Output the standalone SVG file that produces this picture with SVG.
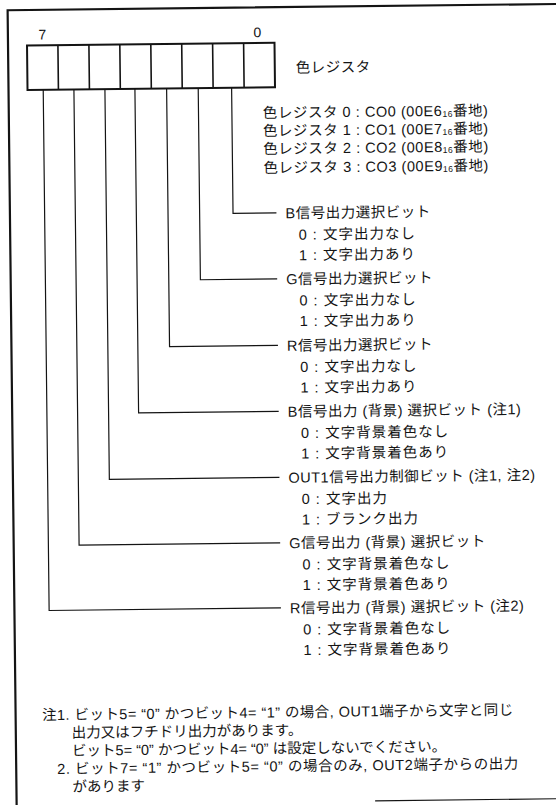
<svg xmlns="http://www.w3.org/2000/svg" width="556" height="805" viewBox="0 0 556 805">
<style>
text{font-family:'Liberation Sans','Noto Sans CJK JP',sans-serif;font-size:14.5px;fill:#141414}
.num{font-size:14px}
.sub{font-size:8.5px}
.lab{letter-spacing:0.5px}
.opt{letter-spacing:1px}
.ln{fill:none;stroke:#141414;stroke-width:1.2}
.frame{fill:none;stroke:#141414;stroke-width:2.2}
.box{fill:#fff;stroke:#141414;stroke-width:2}
.div{stroke:#141414;stroke-width:1.6}
</style>
<rect width="556" height="805" fill="#fff"/>
<g transform="rotate(-0.65)">
<g id="frame">
<path class="frame" d="M7.5,830 V10.3 H570"/>
<path class="ln" d="M366,805 H570" stroke-width="1.6"/>
</g>
<g id="register">
<text class="num" x="38" y="40">7</text>
<text class="num" x="253" y="40">0</text>
<rect class="box" x="26.5" y="45.8" width="247.5" height="44.5"/>
<path class="div" d="M57.4,45.8V90.3M88.4,45.8V90.3M119.3,45.8V90.3M150.3,45.8V90.3M181.2,45.8V90.3M212.1,45.8V90.3M243.1,45.8V90.3"/>
<text x="295" y="76" class="lab">色レジスタ</text>
</g>
<g id="addresses">
<text x="261.5" y="121" textLength="225" lengthAdjust="spacing">色レジスタ 0 : CO0 (00E6<tspan class="sub" dy="1">16</tspan><tspan dy="-1">番地)</tspan></text>
<text x="261.5" y="139" textLength="225" lengthAdjust="spacing">色レジスタ 1 : CO1 (00E7<tspan class="sub" dy="1">16</tspan><tspan dy="-1">番地)</tspan></text>
<text x="261.5" y="157" textLength="225" lengthAdjust="spacing">色レジスタ 2 : CO2 (00E8<tspan class="sub" dy="1">16</tspan><tspan dy="-1">番地)</tspan></text>
<text x="261.5" y="176" textLength="225" lengthAdjust="spacing">色レジスタ 3 : CO3 (00E9<tspan class="sub" dy="1">16</tspan><tspan dy="-1">番地)</tspan></text>
</g>
<g id="connectors">
<path class="ln" d="M230.6,90.3V216H274"/>
<path class="ln" d="M197.2,90.3V282H274"/>
<path class="ln" d="M165.6,90.3V348.5H274"/>
<path class="ln" d="M133.9,90.3V414.5H274"/>
<path class="ln" d="M103.9,90.3V480.5H274"/>
<path class="ln" d="M72.9,90.3V546H274"/>
<path class="ln" d="M42.2,90.3V611H274"/>
</g>
<g id="bit-b">
<text class="lab" x="283" y="221.5">B信号出力選択ビット</text>
<text class="opt" x="296" y="243">0 : 文字出力なし</text>
<text class="opt" x="296" y="263.5">1 : 文字出力あり</text>
</g>
<g id="bit-g">
<text class="lab" x="283" y="287.5">G信号出力選択ビット</text>
<text class="opt" x="296" y="309">0 : 文字出力なし</text>
<text class="opt" x="296" y="329.5">1 : 文字出力あり</text>
</g>
<g id="bit-r">
<text class="lab" x="283" y="354">R信号出力選択ビット</text>
<text class="opt" x="296" y="375.5">0 : 文字出力なし</text>
<text class="opt" x="296" y="396">1 : 文字出力あり</text>
</g>
<g id="bit-b-bg">
<text class="lab" x="283" y="420">B信号出力 (背景) 選択ビット (注1)</text>
<text class="opt" x="296" y="441.5">0 : 文字背景着色なし</text>
<text class="opt" x="296" y="462">1 : 文字背景着色あり</text>
</g>
<g id="bit-out1">
<text class="lab" x="283" y="486">OUT1信号出力制御ビット (注1, 注2)</text>
<text class="opt" x="296" y="507.5">0 : 文字出力</text>
<text class="opt" x="296" y="528">1 : ブランク出力</text>
</g>
<g id="bit-g-bg">
<text class="lab" x="283" y="551.5">G信号出力 (背景) 選択ビット</text>
<text class="opt" x="296" y="573">0 : 文字背景着色なし</text>
<text class="opt" x="296" y="593.5">1 : 文字背景着色あり</text>
</g>
<g id="bit-r-bg">
<text class="lab" x="283" y="616.5">R信号出力 (背景) 選択ビット (注2)</text>
<text class="opt" x="296" y="638">0 : 文字背景着色なし</text>
<text class="opt" x="296" y="658.5">1 : 文字背景着色あり</text>
</g>
<g id="notes">
<text x="34" y="720.5" textLength="471" lengthAdjust="spacing">注1. ビット5= “0” かつビット4= “1” の場合, OUT1端子から文字と同じ</text>
<text x="63.5" y="738.5">出力又はフチドリ出力があります。</text>
<text x="63.5" y="756.5">ビット5= “0” かつビット4= “0” は設定しないでください。</text>
<text x="48.5" y="774.5" textLength="461" lengthAdjust="spacing">2. ビット7= “1” かつビット5= “0” の場合のみ, OUT2端子からの出力</text>
<text x="63.5" y="792.5">があります</text>
</g>
</g>
</svg>
